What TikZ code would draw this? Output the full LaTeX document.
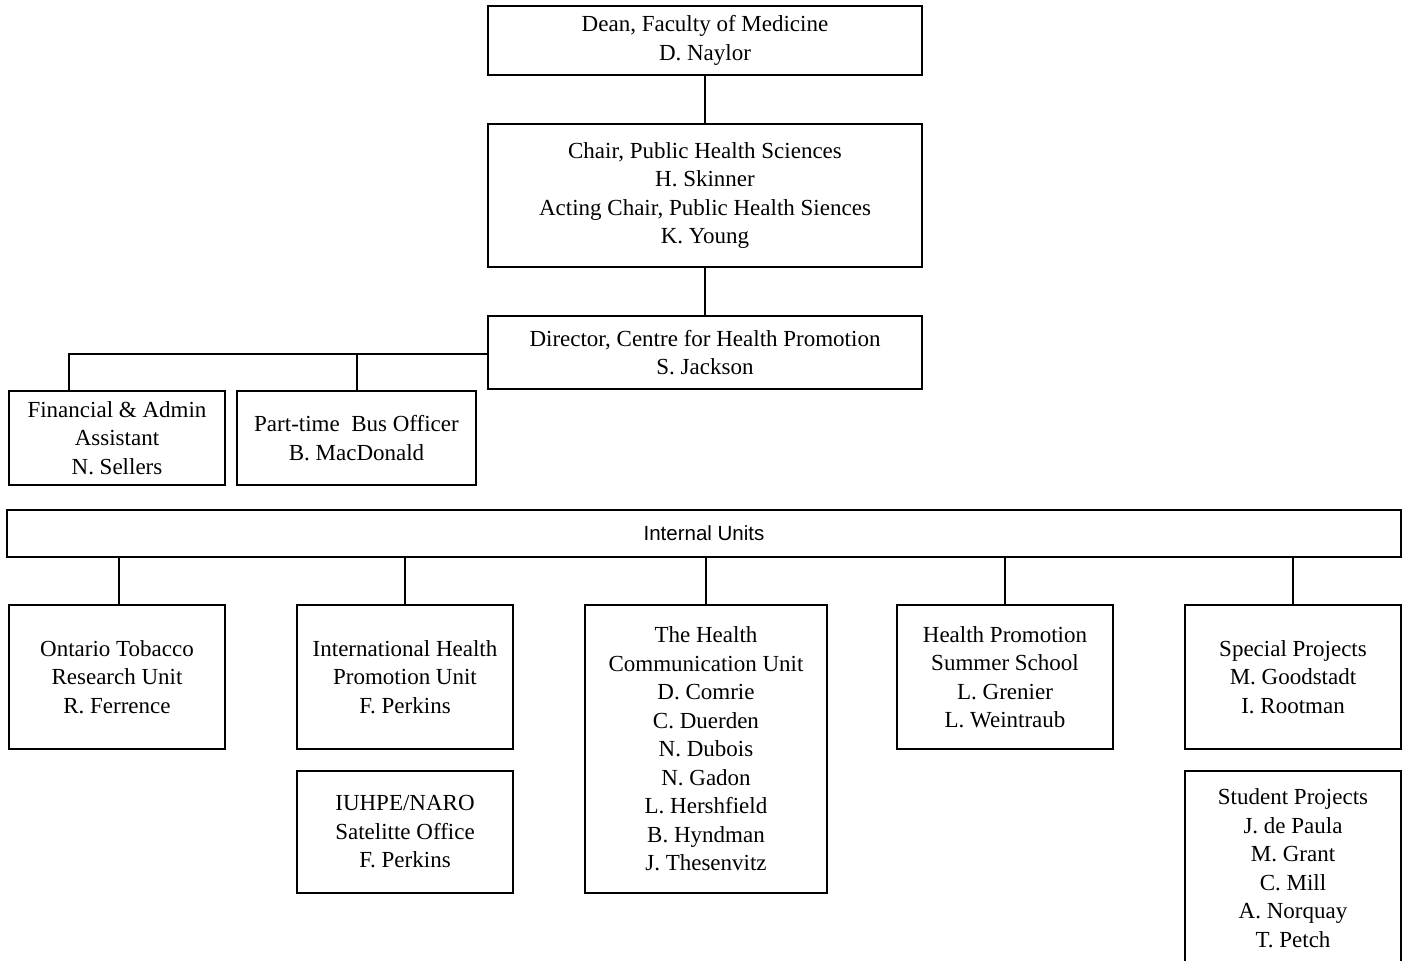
\documentclass[tikz,border=0pt]{standalone}
\usepackage{fontspec}
\setmainfont{Liberation Serif}
\newfontfamily\arialfont{Liberation Sans}
\begin{document}
\begin{tikzpicture}[x=1pt,y=-1pt,
  box/.style={draw=black,line width=1.5pt,inner sep=0pt,align=center,
    font=\fontsize{23}{28.5}\selectfont},
  conn/.style={draw=black,line width=1.5pt}]
\useasboundingbox (0,0) rectangle (1409,961);
\clip (0,0) rectangle (1409,961);
\fill[white] (0,0) rectangle (1409,961);
\node[box,minimum width=434pt,minimum height=69pt] (dean) at (705,40.5)
  {Dean, Faculty of Medicine\\D. Naylor};
\node[box,minimum width=434pt,minimum height=143pt] (chair) at (705,195.5)
  {Chair, Public Health Sciences\\H. Skinner\\Acting Chair, Public Health Siences\\K. Young};
\node[box,minimum width=434pt,minimum height=73pt] (dir) at (705,352.5)
  {Director, Centre for Health Promotion\\S. Jackson};
\node[box,minimum width=216pt,minimum height=94pt] (fin) at (117,438)
  {Financial \& Admin\\Assistant\\N. Sellers};
\node[box,minimum width=239pt,minimum height=94pt] (bus) at (356.5,438)
  {Part-time~ Bus Officer\\B. MacDonald};
\node[box,minimum width=1394pt,minimum height=47pt,font=\arialfont\fontsize{20.5}{24}\selectfont] (iu) at (704,533.5)
  {Internal Units};
\node[box,minimum width=216pt,minimum height=144pt] (otru) at (117,677)
  {Ontario Tobacco\\Research Unit\\R. Ferrence};
\node[box,minimum width=216pt,minimum height=144pt] (ihpu) at (405,677)
  {International Health\\Promotion Unit\\F. Perkins};
\node[box,minimum width=242pt,minimum height=288pt] (hcu) at (706,749)
  {The Health\\Communication Unit\\D. Comrie\\C. Duerden\\N. Dubois\\N. Gadon\\L. Hershfield\\B. Hyndman\\J. Thesenvitz};
\node[box,minimum width=216pt,minimum height=144pt] (hpss) at (1005,677)
  {Health Promotion\\Summer School\\L. Grenier\\L. Weintraub};
\node[box,minimum width=216pt,minimum height=144pt] (sp) at (1293,677)
  {Special Projects\\M. Goodstadt\\I. Rootman};
\node[box,minimum width=216pt,minimum height=122pt] (iuhpe) at (405,832)
  {IUHPE/NARO\\Satelitte Office\\F. Perkins};
\node[box,minimum width=216pt,minimum height=194pt] (stud) at (1293,868)
  {Student Projects\\J. de Paula\\M. Grant\\C. Mill\\A. Norquay\\T. Petch};
% connectors
\draw[conn] (dean.south) -- (chair.north);
\draw[conn] (chair.south) -- (dir.north);
\coordinate (finTop) at (69,391);
\coordinate (busTop) at (357,391);
\draw[conn] (dir.west) ++(0,1.5) coordinate (br) -| (finTop);
\draw[conn] (busTop) -- (busTop |- br);
\coordinate (otruTop) at (119,605);
\draw[conn] (iu.south -| otruTop) -- (otruTop);
\draw[conn] (iu.south -| ihpu.north) -- (ihpu.north);
\draw[conn] (iu.south -| hcu.north) -- (hcu.north);
\draw[conn] (iu.south -| hpss.north) -- (hpss.north);
\draw[conn] (iu.south -| sp.north) -- (sp.north);
\end{tikzpicture}
\end{document}
